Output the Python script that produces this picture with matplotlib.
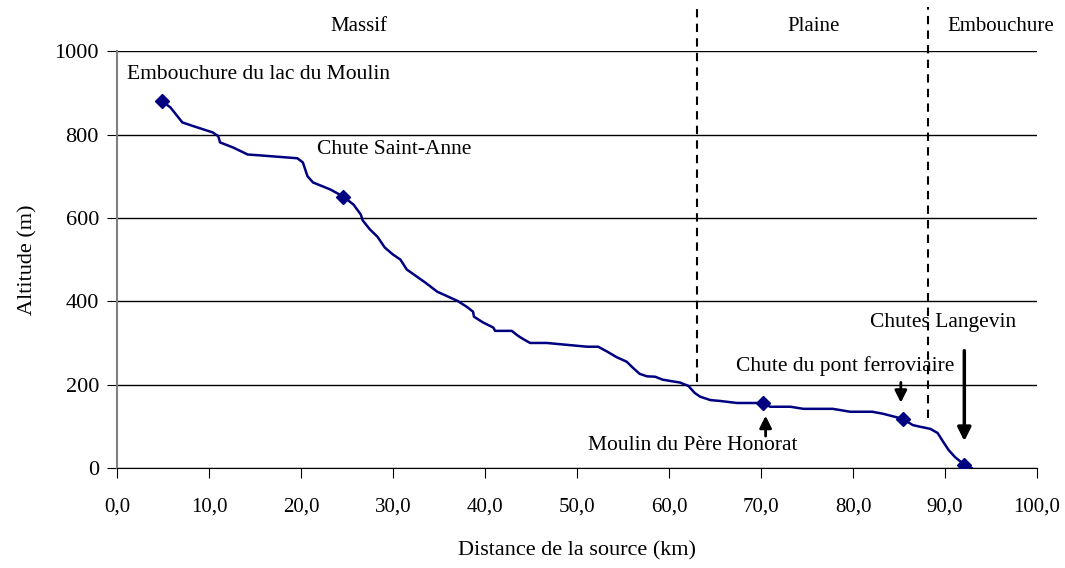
import matplotlib.pyplot as plt
import numpy as np

plt.rcParams['font.family'] = ['Liberation Serif', 'DejaVu Serif']

# profil de la riviere (km, m)
distance = [4.9, 5.8, 7.1, 8.3, 10.4, 11.0, 11.2, 12.6, 14.2, 15.5, 19.6, 20.2,
            20.7, 21.3, 23.2, 24.6, 25.7, 26.5, 26.7, 27.5, 28.3, 29.1, 30.0,
            30.8, 31.5, 32.6, 33.5, 34.8, 36.2, 37.0, 38.0, 38.7, 38.8, 39.8,
            40.9, 41.1, 42.9, 43.6, 44.1, 44.9, 46.7, 51.1, 52.3, 53.3, 54.3,
            55.4, 56.1, 56.8, 57.6, 58.5, 59.3, 60.1, 61.2, 62.1, 62.8, 63.4,
            64.5, 65.5, 67.4, 70.2, 71.0, 73.2, 74.6, 77.8, 79.7, 82.1, 83.3,
            85.4, 86.5, 87.3, 88.4, 89.2, 89.8, 90.4, 91.1, 92.1, 92.9]
altitude = [880, 865, 829, 820, 805, 796, 781, 769, 752, 750, 743, 733,
            700, 685, 668, 651, 632, 608, 594, 572, 555, 529, 512,
            500, 476, 459, 445, 423, 409, 401, 387, 375, 363, 349,
            337, 329, 329, 317, 310, 300, 300, 291, 291, 279, 266,
            255, 240, 226, 220, 219, 212, 209, 205, 197, 180, 171,
            163, 161, 156, 156, 147, 147, 142, 142, 135, 135, 130,
            118, 103, 99, 94, 84, 63, 43, 26, 8, 0]

# points remarquables
points_km = [4.9, 24.6, 70.2, 85.4, 92.1]
points_m = [880, 651, 156, 118, 8]

# zones
zones = ['Massif', 'Plaine', 'Embouchure']
zones_km = [26.3, 75.7, 96.1]
limites_km = [63.0, 88.2]
limites_bas = [207, 120]

fig = plt.figure(figsize=(10.65, 5.68), dpi=100)
ax = fig.add_axes([0.1099, 0.176, 0.8638, 0.734])

ax.plot(distance, altitude, color='#000080', lw=1.8, zorder=3)
ax.plot(points_km, points_m, 'D', color='#000080', ms=7.5, zorder=4)

ax.set_xlim(0, 100)
ax.set_ylim(0, 1000)
ax.set_xticks(np.arange(0, 101, 10))
ax.set_xticklabels([('%.1f' % v).replace('.', ',') for v in np.arange(0, 101, 10)])
ax.set_yticks(np.arange(0, 1001, 200))
ax.yaxis.grid(True, color='black', lw=1)
ax.set_axisbelow(True)

for s in ['top', 'right']:
    ax.spines[s].set_visible(False)
ax.spines['left'].set_color('#808080')
ax.spines['left'].set_linewidth(1.5)
ax.spines['bottom'].set_color('black')
ax.tick_params(axis='both', direction='out', length=7, color='black')
ax.tick_params(axis='y', labelsize=16, pad=6)
ax.tick_params(axis='x', labelsize=15, pad=14)

ax.set_xlabel('Distance de la source (km)', fontsize=16, labelpad=18)
ax.set_ylabel('Altitude (m)', fontsize=16, labelpad=12)

# limites des zones
for x, yb in zip(limites_km, limites_bas):
    ax.plot([x, x], [yb, 1106], color='black', ls=(0, (4, 3)), lw=1.5,
            clip_on=False)
for z, x in zip(zones, zones_km):
    ax.text(x, 1060, z, fontsize=15, ha='center', va='center')

fs = 15.5
ax.text(1.1, 945, 'Embouchure du lac du Moulin', fontsize=fs, va='center')
ax.text(21.7, 764, 'Chute Saint-Anne', fontsize=fs, va='center')
ax.text(62.6, 55, 'Moulin du Père Honorat', fontsize=fs, ha='center', va='center')
ax.text(79.1, 245, 'Chute du pont ferroviaire', fontsize=fs, ha='center', va='center')
ax.text(89.8, 348, 'Chutes Langevin', fontsize=fs, ha='center', va='center')

ax.annotate('', xy=(70.5, 132), xytext=(70.5, 70),
            arrowprops=dict(arrowstyle='-|>', color='black', lw=2, mutation_scale=18))
ax.annotate('', xy=(85.2, 150), xytext=(85.2, 212),
            arrowprops=dict(arrowstyle='-|>', color='black', lw=2, mutation_scale=18))
ax.annotate('', xy=(92.1, 58), xytext=(92.1, 288),
            arrowprops=dict(arrowstyle='-|>', color='black', lw=2.5, mutation_scale=20))

fig.savefig('out.png', dpi=100)
